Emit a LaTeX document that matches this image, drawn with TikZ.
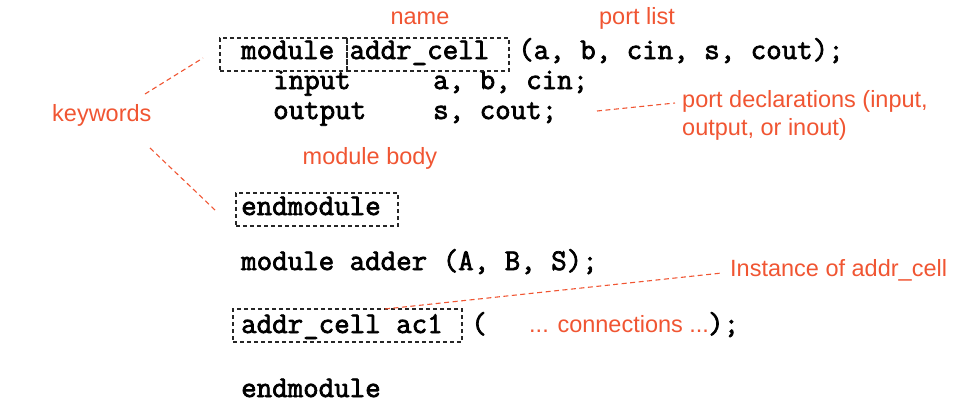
\documentclass[tikz,border=0pt]{standalone}
\usepackage{fontspec}
\setmainfont{Liberation Sans}
\newfontfamily\codefont{Latin Modern Mono}[FakeBold=2.4]
\definecolor{lbl}{RGB}{240,85,50}
\begin{document}
\begin{tikzpicture}[x=1pt,y=-1pt,
  code/.style={anchor=base west, inner sep=0pt, font=\codefont\fontsize{30.1}{34}\selectfont},
  lab/.style={anchor=base west, inner sep=0pt, text=lbl, font=\fontsize{23.5}{28}\selectfont},
  kbox/.style={draw=black!85, dash pattern=on 4pt off 3pt, line width=1.1pt, inner sep=0pt},
  lead/.style={draw=lbl, dash pattern=on 5pt off 3.5pt, line width=1.1pt}]
\useasboundingbox (0,0) rectangle (980,418);
% code
\node[code] (l1) at (241,59) {module addr\_cell};
\node[code] (l1b) at (518,59) {(a, b, cin, s, cout);};
\node[code] (l2a) at (273,89) {input};
\node[code] (l2b) at (433,89) {a, b, cin;};
\node[code] (l3a) at (273,119) {output};
\node[code] (l3b) at (433,119) {s, cout;};
\node[code] (l4) at (241,215) {endmodule};
\node[code] (l5) at (241,270) {module adder (A, B, S);};
\node[code] (l6) at (241,333) {addr\_cell ac1};
\node[code] (l6p) at (471,333) {(};
\node[code] (l6e) at (708,333) {);};
\node[code] (l7) at (241,397) {endmodule};
% boxes
\node[kbox, minimum width=127pt, minimum height=33pt] (bmod) at (283.5,54.5) {};
\node[kbox, minimum width=162pt, minimum height=33pt] (bname) at (428,54.5) {};
\node[kbox, minimum width=162pt, minimum height=33pt] (bend) at (317,209.5) {};
\node[kbox, minimum width=229pt, minimum height=33pt] (binst) at (347.5,325.5) {};
% labels
\node[lab, anchor=base] (tname) at (420,24) {name};
\node[lab, anchor=base] (tport) at (637,24) {port list};
\node[lab] (tkw) at (52,121) {keywords};
\node[lab, anchor=base] (tbody) at (370,164) {module body};
\node[lab] (tpd1) at (682,107) {port declarations (input,};
\node[lab] (tpd2) at (682,135) {output, or inout)};
\node[lab] (tinst) at (730,276) {Instance of addr\_cell};
\node[lab] (tconn) at (529,332) {... connections ...};
% leads
\coordinate (kwA) at (145,94);
\coordinate (kwAe) at (203,58);
\coordinate (kwB) at (150,148);
\coordinate (kwBe) at (215,210);
\coordinate (pdA) at (597,111);
\coordinate (pdB) at (675,103);
\coordinate (inA) at (385,309);
\coordinate (inB) at (722,273);
\draw[lead] (kwA) -- (kwAe);
\draw[lead] (kwB) -- (kwBe);
\draw[lead] (pdA) -- (pdB);
\draw[lead] (inA) -- (inB);
\end{tikzpicture}
\end{document}
